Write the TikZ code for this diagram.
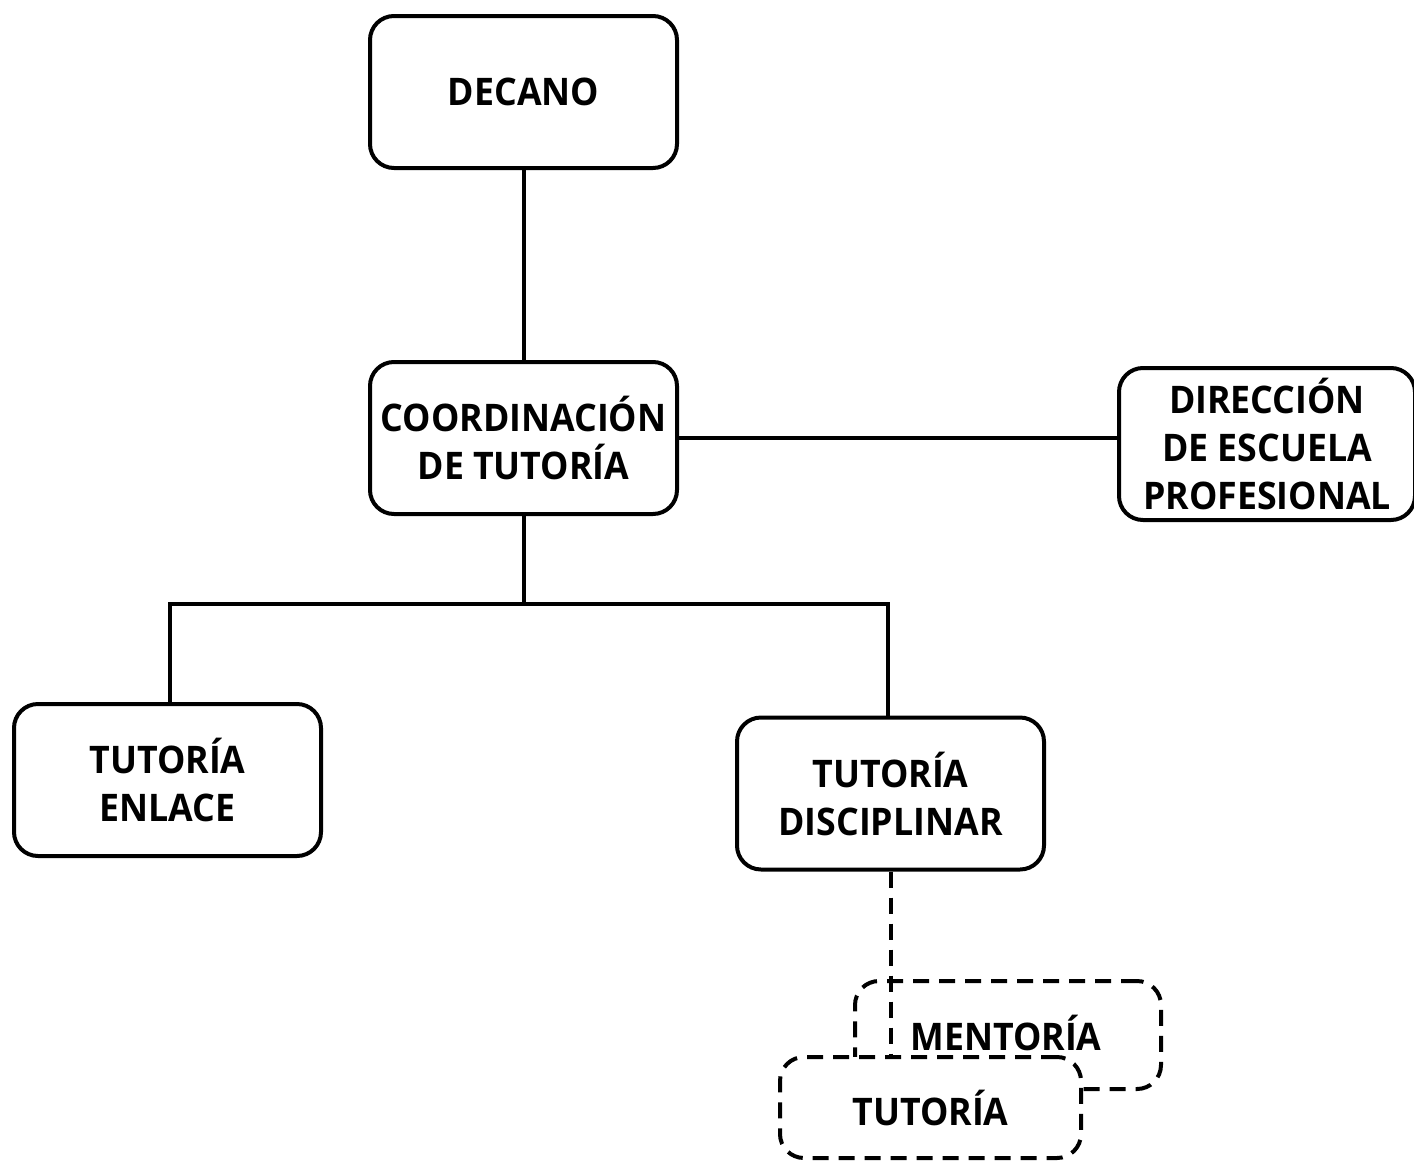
\documentclass[tikz,border=0pt]{standalone}
\usepackage{fontspec}
\setmainfont{Open Sans}[FakeStretch=0.94]
\begin{document}
\begin{tikzpicture}[x=0.5pt,y=-0.5pt,
  box/.style={draw=black,line width=2pt,rounded corners=12pt,fill=white,
    align=center,font=\fontsize{19}{24}\selectfont\bfseries,inner sep=1pt},
  dbox/.style={box,dash pattern=on 8pt off 5pt},
  conn/.style={draw=black,line width=2pt},
  dconn/.style={conn,dash pattern=on 8pt off 5pt}]
\useasboundingbox (0,0) rectangle (1414,1162);
\node[box,minimum width=153.5pt,minimum height=76pt] (dec) at (523.5,92) {DECANO};
\node[box,minimum width=153.5pt,minimum height=76pt] (coo) at (523.5,438) {COORDINACIÓN\\DE TUTORÍA};
\node[box,minimum width=148pt,minimum height=76pt] (dir) at (1267,444) {DIRECCIÓN\\DE ESCUELA\\PROFESIONAL};
\node[box,minimum width=153.5pt,minimum height=76pt] (enl) at (167.5,780) {TUTORÍA\\ENLACE};
\node[box,minimum width=153.5pt,minimum height=76pt] (dis) at (890.5,793.5) {TUTORÍA\\DISCIPLINAR};
\node[dbox,minimum width=153pt,minimum height=54pt] (men) at (1008,1035) {};
\node[font=\fontsize{19}{24}\selectfont\bfseries] (ment) at (1006,1033) {MENTORÍA};
\node[dbox,minimum width=150.5pt,minimum height=50.5pt] (tut) at (930.5,1107.5) {TUTORÍA};
\draw[conn] (dec.south) -- (coo.north);
\draw[conn] (coo.east) -- (coo.east -| dir.west);
\coordinate (j) at (523.5,604);
\draw[conn] (coo.south) -- (j);
\draw[conn] (enl.north -| 170,0) |- (j) -| (dis.north -| 888,0);
\draw[dconn] (dis.south -| 891,0) -- (tut.north -| 891,0);
\end{tikzpicture}
\end{document}
